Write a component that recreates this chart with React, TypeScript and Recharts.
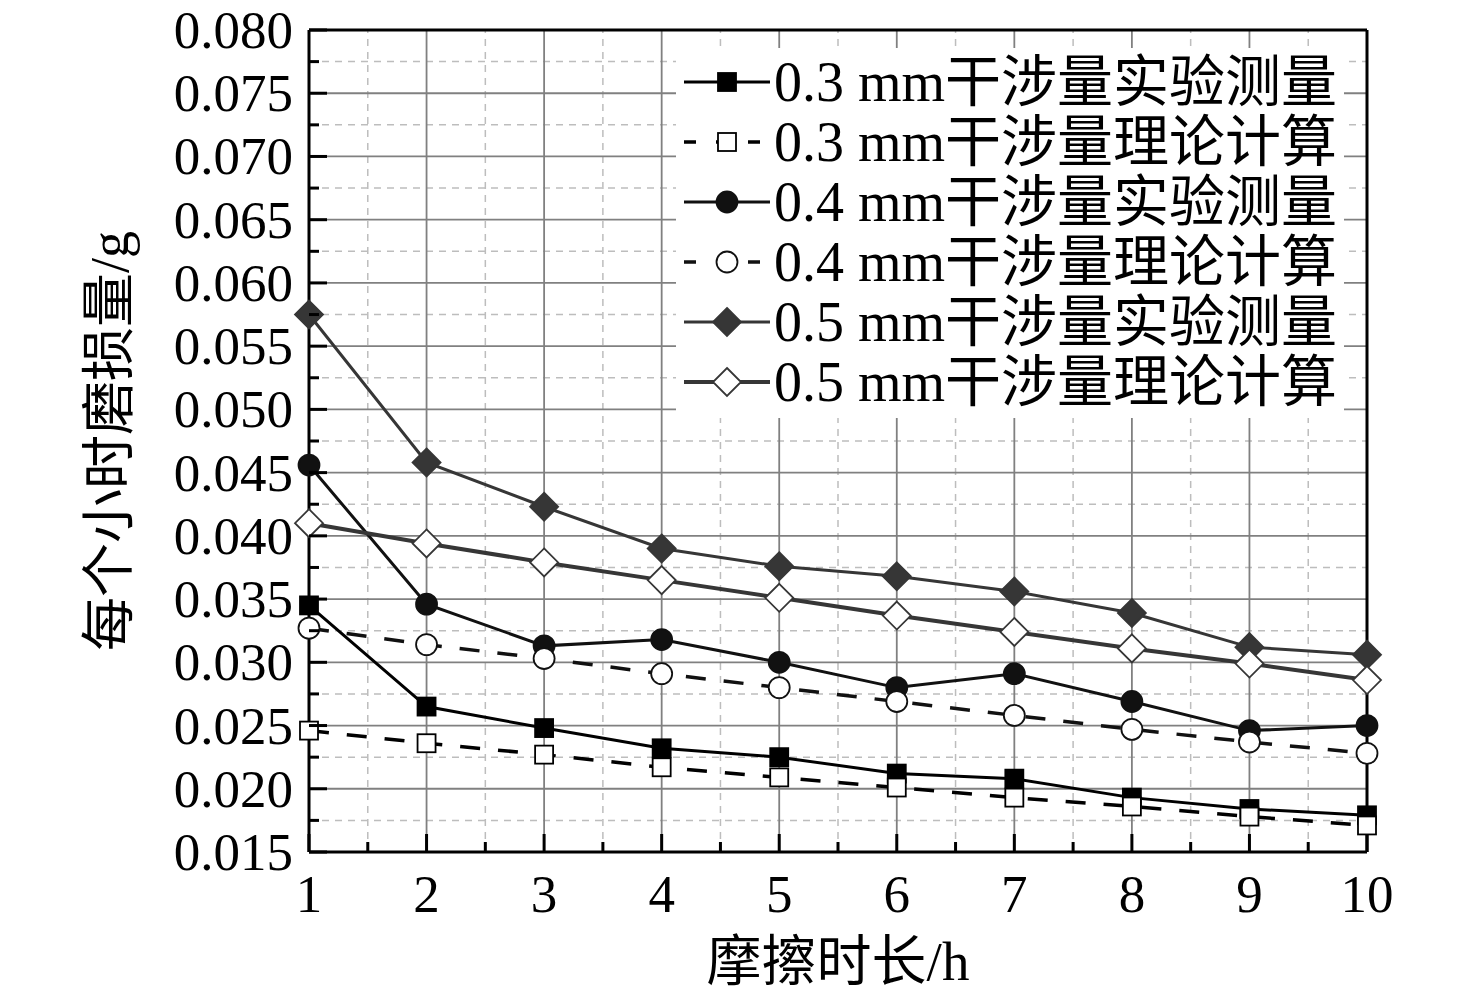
import { LineChart, Line, XAxis, YAxis, ReferenceLine, Legend } from 'recharts';

// 摩擦时长 (h)
const hours = [1, 2, 3, 4, 5, 6, 7, 8, 9, 10];

// 每个小时磨损量 (g)
const exp03 = [0.0345, 0.0265, 0.0248, 0.0232, 0.0225, 0.0212, 0.0208, 0.0193, 0.0184, 0.0179];
const theo03 = [0.0246, 0.0236, 0.0227, 0.0217, 0.0209, 0.0201, 0.0193, 0.0186, 0.0178, 0.0171];
const exp04 = [0.0456, 0.0346, 0.0313, 0.0318, 0.03, 0.028, 0.0291, 0.0269, 0.0246, 0.025];
const theo04 = [0.0327, 0.0314, 0.0303, 0.0291, 0.028, 0.0269, 0.0258, 0.0247, 0.0237, 0.0228];
const exp05 = [0.0575, 0.0458, 0.0423, 0.039, 0.0376, 0.0368, 0.0356, 0.0339, 0.0312, 0.0306];
const theo05 = [0.041, 0.0394, 0.0379, 0.0365, 0.0351, 0.0337, 0.0324, 0.0311, 0.0299, 0.0286];

const xMajor = [1, 2, 3, 4, 5, 6, 7, 8, 9, 10];
const xMinor = [1.5, 2.5, 3.5, 4.5, 5.5, 6.5, 7.5, 8.5, 9.5];
const yMajor = [0.015, 0.02, 0.025, 0.03, 0.035, 0.04, 0.045, 0.05, 0.055, 0.06, 0.065, 0.07, 0.075, 0.08];
const yMinor = [0.0175, 0.0225, 0.0275, 0.0325, 0.0375, 0.0425, 0.0475, 0.0525, 0.0575, 0.0625, 0.0675, 0.0725, 0.0775];

const rows = hours.map((h, i) => ({
  h,
  exp03: exp03[i],
  theo03: theo03[i],
  exp04: exp04[i],
  theo04: theo04[i],
  exp05: exp05[i],
  theo05: theo05[i],
}));

const FONT = '"Liberation Serif", "Times New Roman", "Noto Sans CJK SC", serif';

type Kind = 'square' | 'circle' | 'diamond';

function Marker({ cx, cy, kind, fill, stroke }: { cx: number; cy: number; kind: Kind; fill: string; stroke: string }) {
  if (cx == null || cy == null) return null;
  if (kind === 'square') {
    return <rect x={cx - 9} y={cy - 9} width={18} height={18} fill={fill} stroke={stroke} strokeWidth={1.8} />;
  }
  if (kind === 'circle') {
    return <circle cx={cx} cy={cy} r={10.5} fill={fill} stroke={stroke} strokeWidth={1.8} />;
  }
  return (
    <polygon
      points={`${cx},${cy - 14} ${cx + 14},${cy} ${cx},${cy + 14} ${cx - 14},${cy}`}
      fill={fill}
      stroke={stroke}
      strokeWidth={1.8}
    />
  );
}

const series = [
  { key: 'exp03', name: '0.3 mm干涉量实验测量', kind: 'square' as Kind, fill: '#000', color: '#000', dash: undefined, width: 3 },
  { key: 'theo03', name: '0.3 mm干涉量理论计算', kind: 'square' as Kind, fill: '#fff', color: '#000', dash: '20 18', width: 3.5 },
  { key: 'exp04', name: '0.4 mm干涉量实验测量', kind: 'circle' as Kind, fill: '#111', color: '#111', dash: undefined, width: 3 },
  { key: 'theo04', name: '0.4 mm干涉量理论计算', kind: 'circle' as Kind, fill: '#fff', color: '#111', dash: '20 18', width: 3.5 },
  { key: 'exp05', name: '0.5 mm干涉量实验测量', kind: 'diamond' as Kind, fill: '#363636', color: '#363636', dash: undefined, width: 3 },
  { key: 'theo05', name: '0.5 mm干涉量理论计算', kind: 'diamond' as Kind, fill: '#fff', color: '#363636', dash: undefined, width: 4 },
];

function YTick(props: any) {
  const { x, y, payload } = props;
  const major = yMajor.includes(payload.value);
  return (
    <g>
      <line x1={x} x2={x + (major ? 18 : 10)} y1={y} y2={y} stroke="#000" strokeWidth={3} />
      {major && (
        <text x={x - 16} y={y + 18} textAnchor="end" fontSize={53} fontFamily={FONT} fill="#000">
          {payload.value.toFixed(3)}
        </text>
      )}
    </g>
  );
}

function XTick(props: any) {
  const { x, y, payload } = props;
  const major = xMajor.includes(payload.value);
  return (
    <g>
      <line x1={x} x2={x} y1={y} y2={y - (major ? 18 : 10)} stroke="#000" strokeWidth={3} />
      {major && (
        <text x={x} y={y + 60} textAnchor="middle" fontSize={53} fontFamily={FONT} fill="#000">
          {payload.value}
        </text>
      )}
    </g>
  );
}

function LegendBox() {
  return (
    <div style={{ width: 668, background: '#fff', padding: '4px 0 6px 6px', fontFamily: FONT, boxSizing: 'border-box' }}>
      {series.map((s) => (
        <div key={s.key} style={{ display: 'flex', alignItems: 'center', height: 60 }}>
          <svg width={92} height={40}>
            <line x1={2} x2={88} y1={20} y2={20} stroke={s.color} strokeWidth={s.width} strokeDasharray={s.dash ? '12 20' : undefined} />
            <Marker cx={45} cy={20} kind={s.kind} fill={s.fill} stroke={s.color} />
          </svg>
          <span style={{ fontSize: 56, lineHeight: '60px', color: '#000', whiteSpace: 'nowrap' }}>{s.name}</span>
        </div>
      ))}
    </div>
  );
}

export default function App() {
  return (
    <div style={{ position: 'absolute', left: 0, top: 0, width: 1476, height: 998, background: '#fff' }}>
      <LineChart width={1476} height={998} data={rows} margin={{ top: 30, right: 109, left: 109, bottom: 86 }}>
        <XAxis
          dataKey="h"
          type="number"
          domain={[1, 10]}
          ticks={[...xMajor, ...xMinor]}
          interval={0}
          tick={<XTick />}
          tickLine={false}
          tickSize={0}
          tickMargin={0}
          axisLine={{ stroke: '#000', strokeWidth: 3 }}
          height={60}
        />
        <YAxis
          type="number"
          domain={[0.015, 0.08]}
          ticks={[...yMajor, ...yMinor]}
          interval={0}
          tick={<YTick />}
          tickLine={false}
          tickSize={0}
          tickMargin={0}
          axisLine={{ stroke: '#000', strokeWidth: 3 }}
          width={200}
        />

        {yMinor.map((v) => (
          <ReferenceLine key={'ym' + v} y={v} stroke="#bdbdbd" strokeWidth={1.5} strokeDasharray="7 6" />
        ))}
        {xMinor.map((v) => (
          <ReferenceLine key={'xm' + v} x={v} stroke="#bdbdbd" strokeWidth={1.5} strokeDasharray="7 6" />
        ))}
        {yMajor.slice(1, -1).map((v) => (
          <ReferenceLine key={'yM' + v} y={v} stroke="#808080" strokeWidth={1.8} />
        ))}
        {xMajor.slice(1, -1).map((v) => (
          <ReferenceLine key={'xM' + v} x={v} stroke="#808080" strokeWidth={1.8} />
        ))}
        <ReferenceLine y={0.08} stroke="#000" strokeWidth={3} />
        <ReferenceLine x={10} stroke="#000" strokeWidth={3} />

        <Legend
          layout="horizontal"
          verticalAlign="middle"
          align="center"
          content={() => <LegendBox />}
          wrapperStyle={{ position: 'absolute', left: 676, top: 48, width: 668 }}
        />

        {series.map((s) => (
          <Line
            key={s.key}
            dataKey={s.key}
            name={s.name}
            type="linear"
            stroke={s.color}
            strokeWidth={s.width}
            strokeDasharray={s.dash}
            isAnimationActive={false}
            dot={(p: any) => <Marker key={s.key + p.index} cx={p.cx} cy={p.cy} kind={s.kind} fill={s.fill} stroke={s.color} />}
            activeDot={false}
          />
        ))}

        <text x={838} y={980} textAnchor="middle" fontSize={55} fontFamily={FONT} fill="#000">
          摩擦时长/h
        </text>
        <text
          x={128}
          y={441}
          textAnchor="middle"
          fontSize={54}
          fontFamily={FONT}
          fill="#000"
          transform="rotate(-90 128 441)"
        >
          每个小时磨损量/g
        </text>
      </LineChart>
    </div>
  );
}
